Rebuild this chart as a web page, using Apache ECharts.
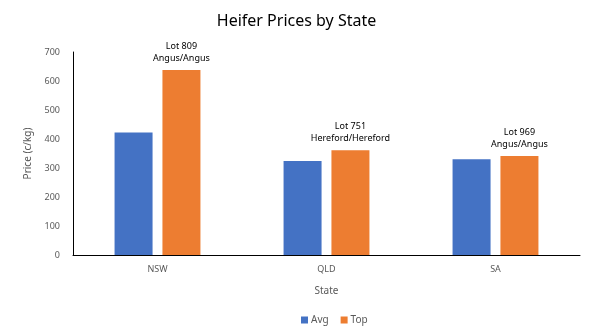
<!DOCTYPE html>
<html>
<head>
<meta charset="utf-8">
<script src="https://cdn.jsdelivr.net/npm/echarts@6/dist/echarts.min.js"></script>
<style>
  html, body { margin: 0; padding: 0; background: #fff; }
  #chart { width: 593px; height: 336px; }
</style>
</head>
<body>
<div id="chart"></div>
<script>
// Heifer sale prices (c/kg) per state
const states = ['NSW', 'QLD', 'SA'];
const avgPrices = [422, 324, 330];
const topPrices = [638, 361, 341];
const topLots = ['Lot 809\nAngus/Angus', 'Lot 751\nHereford/Hereford', 'Lot 969\nAngus/Angus'];
const yTicks = [0, 100, 200, 300, 400, 500, 600, 700];

const FONT = '"Noto Sans", sans-serif';
const GREY = '#595959';

const chart = echarts.init(document.getElementById('chart'), null, { renderer: 'canvas' });

chart.setOption({
  animation: false,
  title: {
    text: 'Heifer Prices by State',
    left: 'center',
    top: 8,
    textStyle: { fontFamily: FONT, fontSize: 16, fontWeight: 'normal', color: '#000' }
  },
  legend: {
    bottom: 6,
    left: 296,
    itemWidth: 7,
    itemHeight: 7,
    itemGap: 12,
    icon: 'rect',
    textStyle: { fontFamily: FONT, fontSize: 10, color: GREY, padding: [0, 0, 0, -2] },
    data: ['Avg', 'Top']
  },
  grid: { left: 73, right: 13, top: 52, bottom: 81 },
  xAxis: {
    type: 'category',
    data: states,
    name: 'State',
    nameLocation: 'middle',
    nameGap: 31,
    nameTextStyle: { fontFamily: FONT, fontSize: 10, color: GREY },
    axisLine: { lineStyle: { color: '#000', width: 1 } },
    axisTick: { show: false },
    axisLabel: { fontFamily: FONT, fontSize: 9, color: GREY, margin: 10 }
  },
  yAxis: {
    type: 'value',
    min: yTicks[0],
    max: yTicks[yTicks.length - 1],
    interval: 100,
    name: 'Price (c/kg)',
    nameLocation: 'middle',
    nameGap: 29,
    nameRotate: 90,
    nameTextStyle: { fontFamily: FONT, fontSize: 10, color: GREY },
    axisLine: { show: true, lineStyle: { color: '#000', width: 1 } },
    axisTick: { show: false },
    splitLine: { show: false },
    axisLabel: { fontFamily: FONT, fontSize: 9, color: GREY, margin: 13 }
  },
  series: [
    {
      name: 'Avg',
      type: 'bar',
      data: avgPrices,
      barWidth: 38,
      barGap: '26%',
      itemStyle: { color: '#4472C4' }
    },
    {
      name: 'Top',
      type: 'bar',
      data: topPrices.map((v, i) => ({ value: v, lot: topLots[i] })),
      barWidth: 38,
      barGap: '26%',
      itemStyle: { color: '#ED7D31' },
      label: {
        show: true,
        position: 'top',
        distance: 6,
        fontFamily: FONT,
        fontSize: 9,
        lineHeight: 12,
        color: '#000',
        formatter: p => p.data.lot
      }
    }
  ]
});
</script>
</body>
</html>
